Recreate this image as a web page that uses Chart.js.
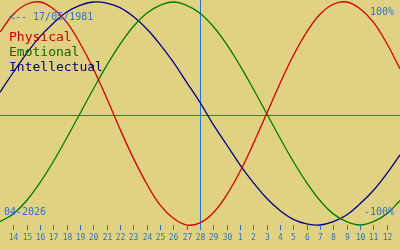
<!DOCTYPE html>
<html lang="en">
<head>
  <meta charset="UTF-8" />
  <title>Biorhythm</title>
  <script src="https://cdn.jsdelivr.net/npm/chart.js"></script>
  <style>
    body { margin: 0; background: #e0d282; }
    canvas { display: block; }
  </style>
</head>
<body>
<canvas id="bioChart" width="400" height="250"></canvas>

<script>
  // days: 13 = 13 April 2026 ... 43 = 13 May 2026
  const days = [13, 14, 15, 16, 17, 18, 19, 20, 21, 22, 23, 24, 25, 26, 27, 28,
                29, 30, 31, 32, 33, 34, 35, 36, 37, 38, 39, 40, 41, 42, 43];
  const physical = [0.73, 0.89, 0.98, 1.00, 0.94, 0.82, 0.63, 0.40, 0.14, -0.14, -0.40, -0.63, -0.82, -0.94, -1.00, -0.98,
                    -0.89, -0.73, -0.52, -0.27, 0.00, 0.27, 0.52, 0.73, 0.89, 0.98, 1.00, 0.94, 0.82, 0.63, 0.40];
  const emotional = [-0.97, -0.90, -0.78, -0.62, -0.43, -0.22, 0.00, 0.22, 0.43, 0.62, 0.78, 0.90, 0.97, 1.00, 0.97, 0.90,
                     0.78, 0.62, 0.43, 0.22, 0.00, -0.22, -0.43, -0.62, -0.78, -0.90, -0.97, -1.00, -0.97, -0.90, -0.78];
  const intellectual = [0.19, 0.37, 0.54, 0.69, 0.81, 0.91, 0.97, 1.00, 0.99, 0.95, 0.87, 0.76, 0.62, 0.46, 0.28, 0.10,
                        -0.10, -0.28, -0.46, -0.62, -0.76, -0.87, -0.95, -0.99, -1.00, -0.97, -0.91, -0.81, -0.69, -0.54, -0.37];

  const tickDays = [14, 15, 16, 17, 18, 19, 20, 21, 22, 23, 24, 25, 26, 27, 28, 29, 30,
                    31, 32, 33, 34, 35, 36, 37, 38, 39, 40, 41, 42];
  const tickLabels = ['14', '15', '16', '17', '18', '19', '20', '21', '22', '23', '24', '25', '26', '27', '28', '29', '30',
                      '1', '2', '3', '4', '5', '6', '7', '8', '9', '10', '11', '12'];
  const today = 28;
  const birthText = '<-- 17/05/1981';
  const monthText = '04-2026';
  const seriesNames = ['Physical', 'Emotional', 'Intellectual'];

  const BG = '#e0d282';
  const BLUE = '#3272c2';
  const MONO = '"DejaVu Sans Mono", "Liberation Mono", monospace';

  const pts = arr => arr.map((v, i) => ({ x: days[i], y: v }));

  const bioPlugin = {
    id: 'bio',
    beforeDraw(chart) {
      const ctx = chart.ctx;
      ctx.save();
      ctx.fillStyle = BG;
      ctx.fillRect(0, 0, chart.width, chart.height);

      const xs = chart.scales.x, ys = chart.scales.y;
      // zero line
      const y0 = Math.round(ys.getPixelForValue(-0.01)) + 0.5;
      ctx.strokeStyle = '#3d6a9c';
      ctx.lineWidth = 1;
      ctx.beginPath();
      ctx.moveTo(0, y0);
      ctx.lineTo(chart.width, y0);
      ctx.stroke();

      // today line
      const xt = Math.round(xs.getPixelForValue(today)) + 0.5;
      ctx.strokeStyle = BLUE;
      ctx.beginPath();
      ctx.moveTo(xt, 0);
      ctx.lineTo(xt, 226);
      ctx.stroke();
      ctx.restore();
    },
    afterDraw(chart) {
      const ctx = chart.ctx;
      const xs = chart.scales.x;
      ctx.save();
      // day ticks + labels
      ctx.strokeStyle = BLUE;
      ctx.fillStyle = BLUE;
      ctx.lineWidth = 1;
      ctx.font = '8px ' + MONO;
      ctx.textAlign = 'center';
      ctx.textBaseline = 'middle';
      tickDays.forEach((d, i) => {
        const x = Math.round(xs.getPixelForValue(d)) + 0.5;
        ctx.beginPath();
        ctx.moveTo(x, 225);
        ctx.lineTo(x, 230);
        ctx.stroke();
        ctx.fillText(tickLabels[i], x, 238);
      });

      ctx.font = '10px ' + MONO;
      ctx.textAlign = 'left';
      ctx.fillText(birthText, 9, 17);
      ctx.fillText(monthText, 4, 212);
      ctx.textAlign = 'right';
      ctx.fillText('100%', 394, 12);
      ctx.fillText('-100%', 394, 212);

      ctx.font = '13px ' + MONO;
      ctx.textAlign = 'left';
      const cols = ['#cc0000', '#007000', '#00007a'];
      seriesNames.forEach((n, i) => {
        ctx.fillStyle = cols[i];
        ctx.fillText(n, 9, 38 + i * 15);
      });
      ctx.restore();
    }
  };

  new Chart(document.getElementById('bioChart'), {
    type: 'line',
    data: {
      datasets: [
        { label: 'Physical', data: pts(physical), borderColor: '#d80000' },
        { label: 'Emotional', data: pts(emotional), borderColor: '#007c00' },
        { label: 'Intellectual', data: pts(intellectual), borderColor: '#000088' }
      ]
    },
    options: {
      responsive: false,
      devicePixelRatio: 1,
      animation: false,
      layout: { padding: 0 },
      elements: {
        line: { borderWidth: 1.3, tension: 0.4 },
        point: { radius: 0 }
      },
      scales: {
        x: { type: 'linear', min: 13, max: 43, display: false },
        y: { min: -1.224, max: 1.018, display: false }
      },
      plugins: { legend: { display: false }, tooltip: { enabled: false } }
    },
    plugins: [bioPlugin]
  });
</script>
</body>
</html>
